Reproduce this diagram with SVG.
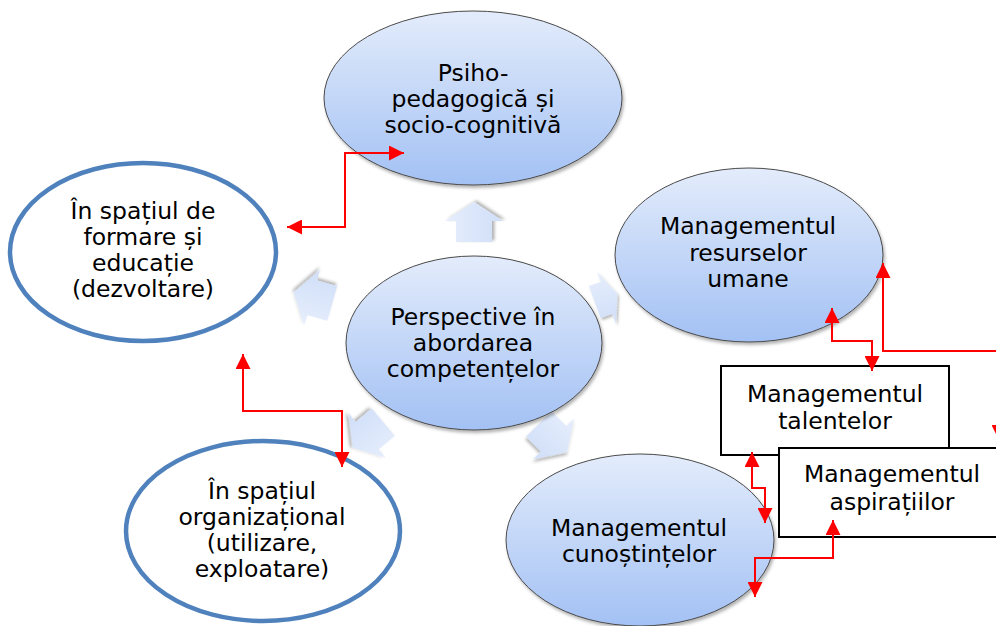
<svg xmlns="http://www.w3.org/2000/svg" width="996" height="626" viewBox="0 0 996 626">
  <style>
    .lbl { font-family: "DejaVu Sans", Verdana, sans-serif; font-size: 23.5px; fill: #000; text-anchor: middle; }
    .soft { fill: url(#ellFill); stroke: #4a4a4a; stroke-width: 1; filter: url(#shade); }
    .ring { fill: #fff; stroke: #4f81bd; stroke-width: 4.5; }
    .box { fill: #fff; stroke: #000; stroke-width: 2; }
    .blk { fill: url(#arrFill); filter: url(#shade); }
    .link { fill: none; stroke: #ff0000; stroke-width: 2; marker-start: url(#tip); marker-end: url(#tip); }
  </style>
  <defs>
    <linearGradient id="ellFill" x1="0" y1="0" x2="0" y2="1">
      <stop offset="0" stop-color="#e3ecfb"/>
      <stop offset="1" stop-color="#a3c1f4"/>
    </linearGradient>
    <linearGradient id="arrFill" x1="0" y1="0" x2="0" y2="1">
      <stop offset="0" stop-color="#e6eefc"/>
      <stop offset="1" stop-color="#cfdef8"/>
    </linearGradient>
    <filter id="shade" x="-20%" y="-20%" width="140%" height="140%">
      <feDropShadow dx="1.5" dy="2.5" stdDeviation="1.8" flood-color="#000" flood-opacity="0.3"/>
    </filter>
    <marker id="tip" markerUnits="userSpaceOnUse" markerWidth="15" markerHeight="15" refX="15" refY="7.5" orient="auto-start-reverse">
      <path d="M0,0 L15,7.5 L0,15 Z" fill="#ff0000"/>
    </marker>
    <polygon id="blockArrow" points="-20,-18 1,-18 1,-29 20,0 1,29 1,18 -20,18"/>
  </defs>

  <!-- radial block arrows around the central concept -->
  <g id="radial-arrows">
    <use href="#blockArrow" class="blk" transform="translate(474,222) rotate(-90)"/>
    <use href="#blockArrow" class="blk" transform="translate(313,298) rotate(196)"/>
    <use href="#blockArrow" class="blk" transform="translate(606,298) rotate(-20) scale(0.6,0.95)"/>
    <use href="#blockArrow" class="blk" transform="translate(368,435) rotate(140)"/>
    <use href="#blockArrow" class="blk" transform="translate(553,438) rotate(45)"/>
  </g>

  <g id="node-psiho">
    <ellipse class="soft" cx="473" cy="98" rx="149" ry="87"/>
    <text class="lbl" x="473" y="81">Psiho-</text>
    <text class="lbl" x="473" y="107">pedagogică și</text>
    <text class="lbl" x="473" y="133">socio-cognitivă</text>
  </g>

  <g id="node-formare">
    <ellipse class="ring" cx="143" cy="252" rx="133" ry="89"/>
    <text class="lbl" x="143" y="219">În spațiul de</text>
    <text class="lbl" x="143" y="245">formare și</text>
    <text class="lbl" x="143" y="271">educație</text>
    <text class="lbl" x="143" y="297">(dezvoltare)</text>
  </g>

  <g id="node-resurse">
    <ellipse class="soft" cx="749" cy="255" rx="134" ry="87"/>
    <text class="lbl" x="748" y="234">Managementul</text>
    <text class="lbl" x="748" y="261">resurselor</text>
    <text class="lbl" x="748" y="287">umane</text>
  </g>

  <g id="node-central">
    <ellipse class="soft" cx="474" cy="343" rx="128" ry="87"/>
    <text class="lbl" x="473" y="325">Perspective în</text>
    <text class="lbl" x="473" y="351">abordarea</text>
    <text class="lbl" x="473" y="377">competențelor</text>
  </g>

  <g id="node-organizational">
    <ellipse class="ring" cx="263" cy="531" rx="137" ry="90"/>
    <text class="lbl" x="262" y="499">În spațiul</text>
    <text class="lbl" x="262" y="525">organizațional</text>
    <text class="lbl" x="262" y="551">(utilizare,</text>
    <text class="lbl" x="262" y="577">exploatare)</text>
  </g>

  <g id="node-cunostinte">
    <ellipse class="soft" cx="640" cy="540" rx="134" ry="86"/>
    <text class="lbl" x="639" y="536">Managementul</text>
    <text class="lbl" x="639" y="562">cunoștințelor</text>
  </g>

  <g id="node-talente">
    <rect class="box" x="721" y="366" width="228" height="89"/>
    <text class="lbl" x="835" y="402">Managementul</text>
    <text class="lbl" x="835" y="429">talentelor</text>
  </g>

  <g id="node-aspiratii">
    <rect class="box" x="779" y="448" width="240" height="89"/>
    <text class="lbl" x="892" y="482">Managementul</text>
    <text class="lbl" x="892" y="510">aspirațiilor</text>
  </g>

  <!-- red two-way connectors -->
  <g id="connectors">
    <path class="link" d="M287,227 H345 V153 H404"/>
    <path class="link" d="M243,354 V411 H342 V467"/>
    <path class="link" d="M832,308 V341 H872 V371"/>
    <path class="link" d="M883,263 V351 H999 V440"/>
    <path class="link" d="M752,452 V488 H765 V523"/>
    <path class="link" d="M833,520 V558 H755 V597"/>
  </g>
</svg>
